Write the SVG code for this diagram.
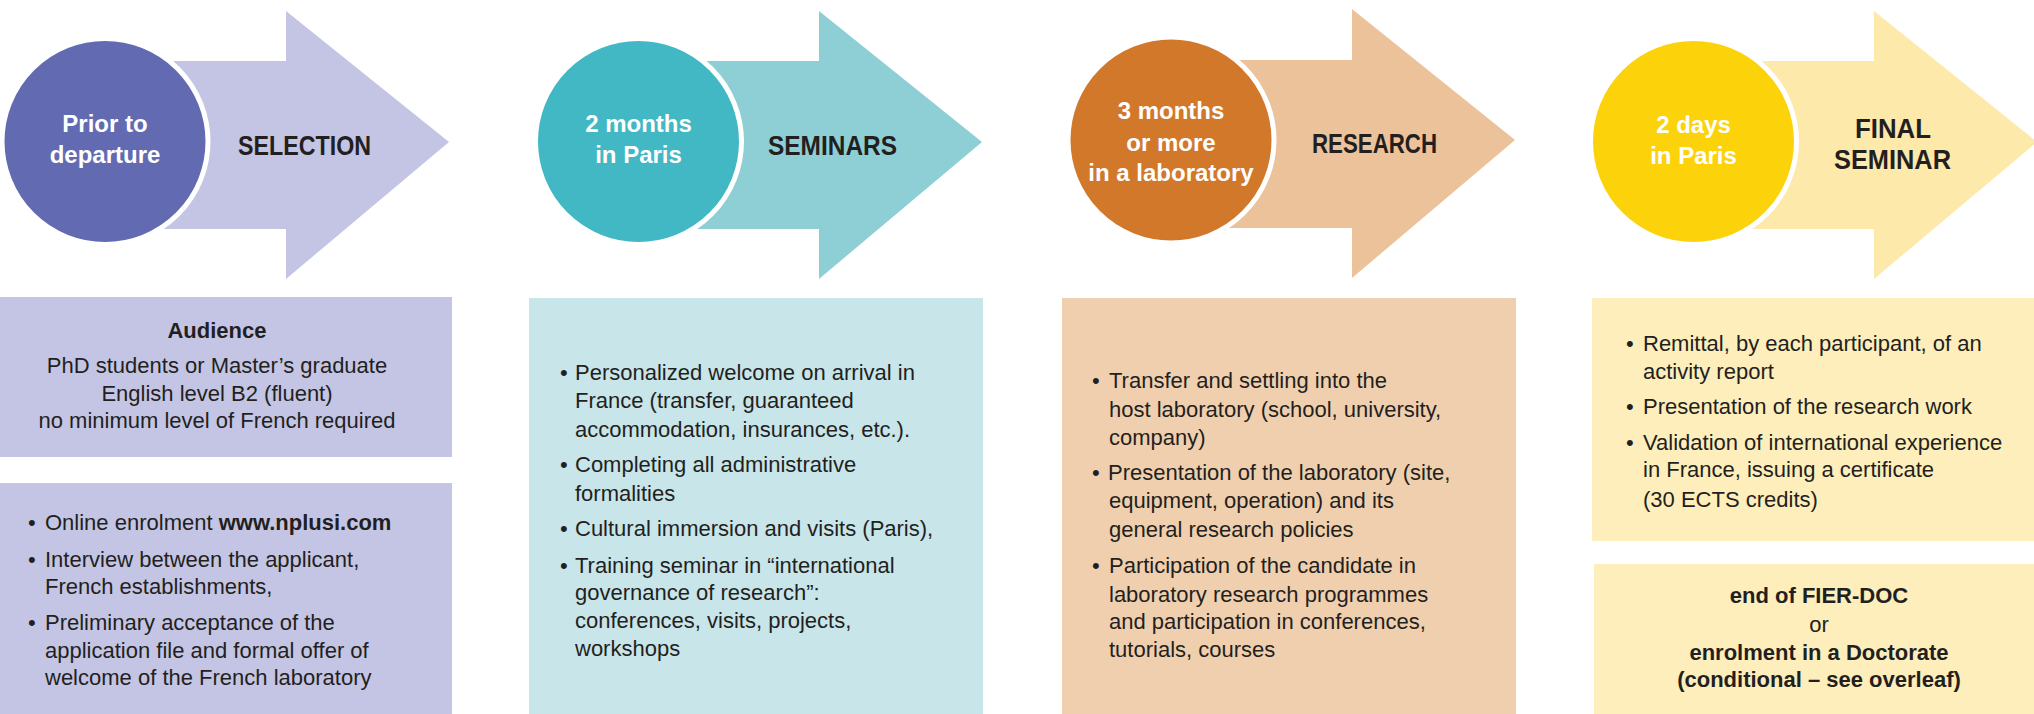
<svg xmlns="http://www.w3.org/2000/svg" width="2034" height="714" viewBox="0 0 2034 714">
<style>
text{font-family:"Liberation Sans",Arial,sans-serif;fill:#231f20}
.ct{font-size:24px;font-weight:bold;fill:#ffffff;text-anchor:middle}
.hd{font-size:28px;font-weight:bold}
.bd{font-size:22px}
.b{font-weight:bold}
.mid{text-anchor:middle}
.ring{stroke:#ffffff;stroke-width:5}
</style>
<rect width="2034" height="714" fill="#ffffff"/>
<g id="connectors"/>

<g id="step1">
  <polygon points="105,61 286,61 286,11 449,142 286,279 286,229 105,229" fill="#c4c5e4"/>
  <circle cx="105" cy="141.5" r="103" fill="#626bb2" class="ring"/>
  <text class="ct" x="105" y="132">Prior to</text>
  <text class="ct" x="105" y="163">departure</text>
  <text class="hd" x="238" y="155" textLength="133" lengthAdjust="spacingAndGlyphs">SELECTION</text>
</g>
<g id="box1a">
  <rect x="0" y="297" width="452" height="160" fill="#c4c5e4"/>
  <text class="bd mid b" x="217" y="338">Audience</text>
  <text class="bd mid" x="217" y="373">PhD students or Master’s graduate</text>
  <text class="bd mid" x="217" y="401">English level B2 (fluent)</text>
  <text class="bd mid" x="217" y="428">no minimum level of French required</text>
</g>
<g id="box1b">
  <rect x="0" y="483" width="452" height="231" fill="#c4c5e4"/>
  <text class="bd" x="28" y="530">•</text><text class="bd" x="45" y="530">Online enrolment <tspan class="b">www.nplusi.com</tspan></text>
  <text class="bd" x="28" y="567">•</text><text class="bd" x="45" y="567">Interview between the applicant,</text>
  <text class="bd" x="45" y="594">French establishments,</text>
  <text class="bd" x="28" y="630">•</text><text class="bd" x="45" y="630">Preliminary acceptance of the</text>
  <text class="bd" x="45" y="658">application file and formal offer of</text>
  <text class="bd" x="45" y="685">welcome of the French laboratory</text>
</g>

<g id="step2">
  <polygon points="638,61 819,61 819,11 982,142 819,279 819,229 638,229" fill="#8ecfd6"/>
  <circle cx="638.5" cy="141.5" r="103" fill="#41b8c4" class="ring"/>
  <text class="ct" x="638.5" y="132">2 months</text>
  <text class="ct" x="638.5" y="163">in Paris</text>
  <text class="hd" x="768" y="155" textLength="129" lengthAdjust="spacingAndGlyphs">SEMINARS</text>
</g>
<g id="box2">
  <rect x="529" y="298" width="454" height="416" fill="#c8e5ea"/>
  <text class="bd" x="560" y="380">•</text><text class="bd" x="575" y="380">Personalized welcome on arrival in</text>
  <text class="bd" x="575" y="408">France (transfer, guaranteed</text>
  <text class="bd" x="575" y="437">accommodation, insurances, etc.).</text>
  <text class="bd" x="560" y="472">•</text><text class="bd" x="575" y="472">Completing all administrative</text>
  <text class="bd" x="575" y="501">formalities</text>
  <text class="bd" x="560" y="536">•</text><text class="bd" x="575" y="536">Cultural immersion and visits (Paris),</text>
  <text class="bd" x="560" y="573">•</text><text class="bd" x="575" y="573">Training seminar in “international</text>
  <text class="bd" x="575" y="600">governance of research”:</text>
  <text class="bd" x="575" y="628">conferences, visits, projects,</text>
  <text class="bd" x="575" y="656">workshops</text>
</g>

<g id="step3">
  <polygon points="1171,60 1352,60 1352,9 1515,140 1352,278 1352,228 1171,228" fill="#ebc29a"/>
  <circle cx="1171" cy="140" r="103" fill="#d2782a" class="ring"/>
  <text class="ct" x="1171" y="119">3 months</text>
  <text class="ct" x="1171" y="151">or more</text>
  <text class="ct" x="1171" y="181">in a laboratory</text>
  <text class="hd" x="1312" y="153" textLength="125" lengthAdjust="spacingAndGlyphs">RESEARCH</text>
</g>
<g id="box3">
  <rect x="1062" y="298" width="454" height="416" fill="#f0cfae"/>
  <text class="bd" x="1092" y="388">•</text><text class="bd" x="1109" y="388">Transfer and settling into the</text>
  <text class="bd" x="1109" y="417">host laboratory (school, university,</text>
  <text class="bd" x="1109" y="445">company)</text>
  <text class="bd" x="1092" y="480">•</text><text class="bd" x="1108" y="480">Presentation of the laboratory (site,</text>
  <text class="bd" x="1109" y="508">equipment, operation) and its</text>
  <text class="bd" x="1109" y="537">general research policies</text>
  <text class="bd" x="1092" y="573">•</text><text class="bd" x="1109" y="573">Participation of the candidate in</text>
  <text class="bd" x="1109" y="602">laboratory research programmes</text>
  <text class="bd" x="1109" y="629">and participation in conferences,</text>
  <text class="bd" x="1109" y="657">tutorials, courses</text>
</g>

<g id="step4">
  <polygon points="1693,61 1874,61 1874,11 2037,142 1874,279 1874,229 1693,229" fill="#fde9a9"/>
  <circle cx="1693.5" cy="141.5" r="103" fill="#fcd20a" class="ring"/>
  <text class="ct" x="1693.5" y="133">2 days</text>
  <text class="ct" x="1693.5" y="164">in Paris</text>
  <text class="hd" x="1855" y="138" textLength="76" lengthAdjust="spacingAndGlyphs">FINAL</text>
  <text class="hd" x="1834" y="169" textLength="117" lengthAdjust="spacingAndGlyphs">SEMINAR</text>
</g>
<g id="box4a">
  <rect x="1592" y="298" width="442" height="243" fill="#fdeebb"/>
  <text class="bd" x="1626" y="351">•</text><text class="bd" x="1643" y="351">Remittal, by each participant, of an</text>
  <text class="bd" x="1643" y="379">activity report</text>
  <text class="bd" x="1626" y="414">•</text><text class="bd" x="1643" y="414">Presentation of the research work</text>
  <text class="bd" x="1626" y="450">•</text><text class="bd" x="1643" y="450">Validation of international experience</text>
  <text class="bd" x="1643" y="477">in France, issuing a certificate</text>
  <text class="bd" x="1643" y="507">(30 ECTS credits)</text>
</g>
<g id="box4b">
  <rect x="1594" y="564" width="440" height="150" fill="#fdeebb"/>
  <text class="bd mid b" x="1819" y="603">end of FIER-DOC</text>
  <text class="bd mid" x="1819" y="632">or</text>
  <text class="bd mid b" x="1819" y="660">enrolment in a Doctorate</text>
  <text class="bd mid b" x="1819" y="687">(conditional – see overleaf)</text>
</g>
</svg>
